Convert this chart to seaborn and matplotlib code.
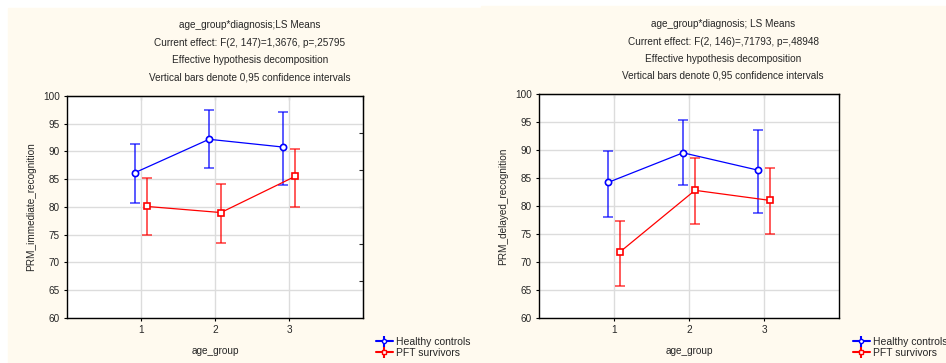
import numpy as np
import pandas as pd
import matplotlib
matplotlib.use("Agg")
import matplotlib.pyplot as plt
import seaborn as sns
from matplotlib.patches import Rectangle

# data
age_groups = [1, 2, 3]
groups = ["Healthy controls", "PFT survivors"]

imm_healthy = [86.2, 92.2, 90.8]
imm_healthy_lo = [80.7, 87.0, 84.0]
imm_healthy_hi = [91.4, 97.4, 97.2]
imm_pft = [80.1, 79.0, 85.5]
imm_pft_lo = [75.0, 73.5, 80.0]
imm_pft_hi = [85.3, 84.1, 90.5]

del_healthy = [84.2, 89.5, 86.4]
del_healthy_lo = [78.0, 83.8, 78.8]
del_healthy_hi = [89.9, 95.3, 93.5]
del_pft = [71.8, 82.8, 81.0]
del_pft_lo = [65.8, 76.7, 75.0]
del_pft_hi = [77.3, 88.5, 86.7]

titles_left = ["age_group*diagnosis;LS Means",
               "Current effect: F(2, 147)=1,3676, p=,25795",
               "Effective hypothesis decomposition",
               "Vertical bars denote 0,95 confidence intervals"]
titles_right = ["age_group*diagnosis; LS Means",
                "Current effect: F(2, 146)=,71793, p=,48948",
                "Effective hypothesis decomposition",
                "Vertical bars denote 0,95 confidence intervals"]

sns.set_style("white")
plt.rcParams['font.family'] = ['Liberation Sans', 'DejaVu Sans']
fs = 7.2

W, H = 946, 363
fig = plt.figure(figsize=(W / 100, H / 100), dpi=100)
fig.patch.set_facecolor("white")

# cream panels behind each plot
bg = "#FFFAEF"
fig.patches.append(Rectangle((8 / W, 0), (481 - 8) / W, (H - 8) / H,
                             transform=fig.transFigure, color=bg, zorder=-10))
fig.patches.append(Rectangle((481 / W, 0), (W - 481) / W, (H - 6) / H,
                             transform=fig.transFigure, color=bg, zorder=-10))

colors = {"Healthy controls": "#0000FF", "PFT survivors": "#FF0000"}
markers = {"Healthy controls": "o", "PFT survivors": "s"}
offsets = {"Healthy controls": -0.08, "PFT survivors": 0.08}


def make_df(h, h_lo, h_hi, p, p_lo, p_hi):
    rows = []
    for g, m, lo, hi in [(groups[0], h, h_lo, h_hi), (groups[1], p, p_lo, p_hi)]:
        for a, v, l, u in zip(age_groups, m, lo, hi):
            rows.append({"age_group": a, "diagnosis": g, "mean": v, "lo": l, "hi": u})
    df = pd.DataFrame(rows)
    df["x"] = df["age_group"] + df["diagnosis"].map(offsets)
    return df


def draw(ax, df, ylabel, right_ticks):
    for g in groups:
        d = df[df["diagnosis"] == g]
        c = colors[g]
        ax.errorbar(d["x"], d["mean"], yerr=[d["mean"] - d["lo"], d["hi"] - d["mean"]],
                    fmt="none", ecolor=c, elinewidth=1.3, capsize=3.5, capthick=1.2,
                    alpha=0.7, zorder=2)
        sns.lineplot(data=d, x="x", y="mean", ax=ax, color=c, linewidth=0.9,
                     marker=markers[g], markersize=4.5, markerfacecolor="white",
                     markeredgecolor=c, markeredgewidth=1.2, zorder=3, legend=False)
    ax.set_xlim(0, 4)
    ax.set_ylim(60, 100)
    ax.set_xticks(age_groups)
    ax.set_yticks(np.arange(60, 101, 5))
    ax.grid(True, color="#DCDCDC", linewidth=1)
    ax.set_facecolor("white")
    for s in ax.spines.values():
        s.set_color("black")
        s.set_linewidth(1)
    ax.tick_params(axis="both", labelsize=fs, length=2, width=0.8, color="black",
                   left=True, bottom=True, pad=3)
    ax.set_xlabel("age_group", fontsize=fs, labelpad=8)
    ax.set_ylabel(ylabel, fontsize=fs, labelpad=5)
    sec = ax.secondary_xaxis("top")
    sec.set_xticks([1, 2, 3, 4])
    sec.set_xticklabels([])
    sec.tick_params(direction="in", length=3, width=0.8)
    if right_ticks:
        sr = ax.secondary_yaxis("right")
        sr.set_yticks(60 + np.arange(1, 6) * 20 / 3)
        sr.set_yticklabels([])
        sr.tick_params(direction="in", length=3, width=0.8)
    # legend with errorbar-style handles
    handles = []
    for g in groups:
        h = ax.errorbar([], [], yerr=[], color=colors[g], marker=markers[g],
                        markersize=3, markerfacecolor="white", capsize=2, label=g)
        handles.append(h)
    return handles


df_imm = make_df(imm_healthy, imm_healthy_lo, imm_healthy_hi, imm_pft, imm_pft_lo, imm_pft_hi)
df_del = make_df(del_healthy, del_healthy_lo, del_healthy_hi, del_pft, del_pft_lo, del_pft_hi)

ax1 = fig.add_axes([67 / W, (H - 318) / H, 296 / W, 222 / H])
ax2 = fig.add_axes([539 / W, (H - 318) / H, 300 / W, 224 / H])

h1 = draw(ax1, df_imm, "PRM_immediate_recognition", True)
h2 = draw(ax2, df_del, "PRM_delayed_recognition", False)

for ax, hs, lx in [(ax1, h1, 376), (ax2, h2, 853)]:
    fig.legend(handles=hs, labels=groups, loc="upper left",
               bbox_to_anchor=(lx / W, (H - 337) / H), frameon=False,
               fontsize=7.5, handlelength=1.6, handletextpad=0.3,
               labelspacing=0.1, borderpad=0, borderaxespad=0)

for lines, cx, ys in [(titles_left, 250, [25, 43, 60, 77]),
                      (titles_right, 723, [24, 42, 59, 76])]:
    for t, y in zip(lines, ys):
        fig.text(cx / W, 1 - y / H, t, ha="center", va="center", fontsize=fs)

fig.savefig("out.png", dpi=100, facecolor=fig.get_facecolor())
